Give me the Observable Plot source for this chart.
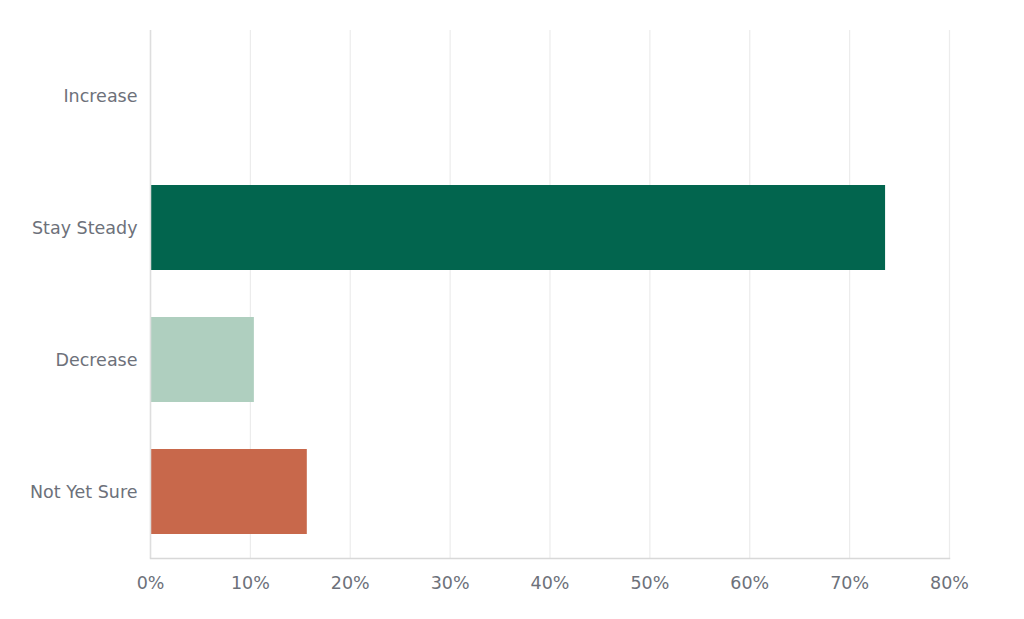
<!DOCTYPE html>
<html>
<head>
<meta charset="utf-8">
<script src="https://cdn.jsdelivr.net/npm/d3@7"></script>
<script src="https://cdn.jsdelivr.net/npm/@observablehq/plot@0.6"></script>
<style>
  html, body { margin: 0; padding: 0; background: #fff; }
  #chart svg { display: block; }
</style>
</head>
<body>
<div id="chart"></div>
<script>
const categories = ["Increase", "Stay Steady", "Decrease", "Not Yet Sure"];
const values = [0, 73.6, 10.4, 15.7];
const xTicks = [0, 10, 20, 30, 40, 50, 60, 70, 80];
const barColors = ["#02654e", "#02654e", "#afcfbf", "#c8684b"];

const data = categories.map((c, i) => ({category: c, value: values[i]}));

const chart = Plot.plot({
  width: 1024,
  height: 619,
  marginTop: 30,
  marginBottom: 61,
  marginLeft: 150,
  marginRight: 75,
  style: {fontFamily: "'DejaVu Sans', sans-serif", fontSize: "17.5px", color: "#6d717a", background: "#fff"},
  x: {domain: [0, 80], ticks: xTicks, tickFormat: d => d + "%", tickSize: 0, tickPadding: 18, label: null},
  y: {domain: categories, paddingInner: 0.356, paddingOuter: 0.178, tickSize: 0, tickPadding: 13, label: null},
  color: {domain: categories, range: barColors},
  marks: [
    Plot.gridX(xTicks, {stroke: "#ececec", strokeOpacity: 1, strokeWidth: 1.2}),
    Plot.barX(data, {x: "value", y: "category", fill: "category"}),
    Plot.ruleX([0], {stroke: "#dedede", strokeWidth: 1.5}),
    Plot.frame({anchor: "bottom", stroke: "#d8d8d8", strokeWidth: 1.5})
  ]
});
document.getElementById("chart").append(chart);
</script>
</body>
</html>
